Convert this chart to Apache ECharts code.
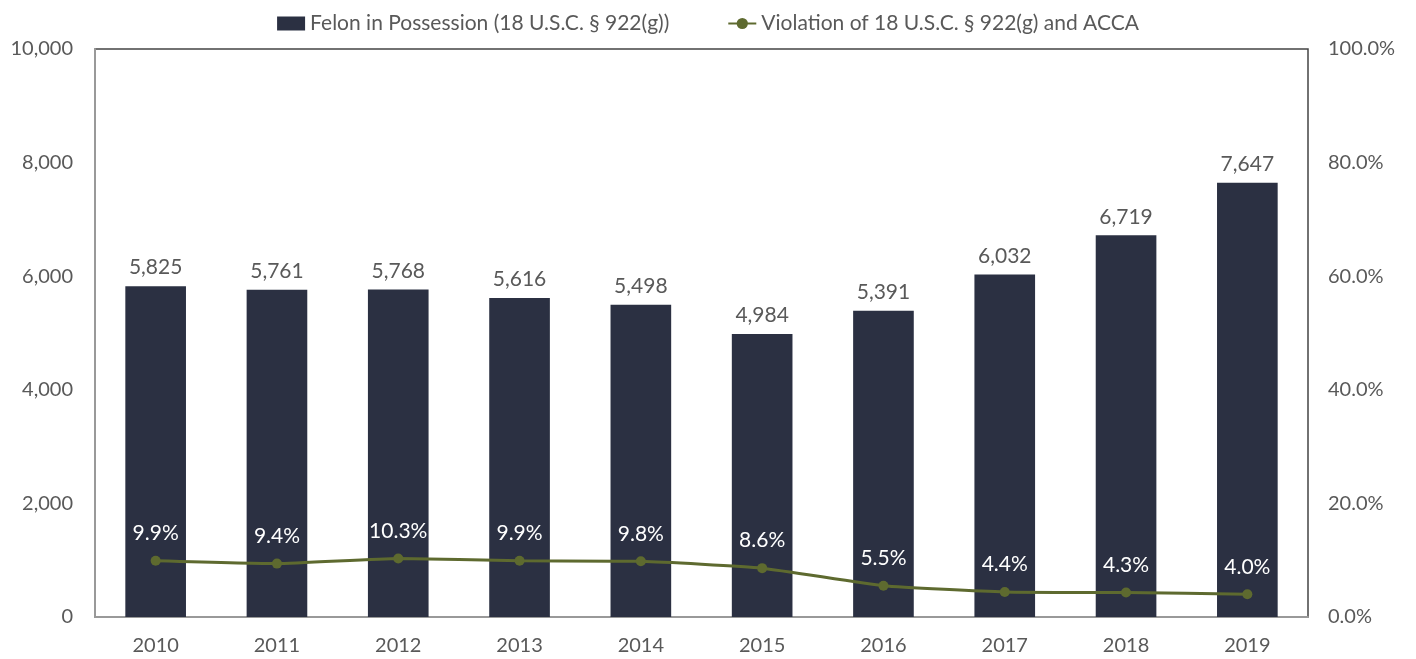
<!DOCTYPE html>
<html>
<head>
<meta charset="utf-8">
<script src="https://cdn.jsdelivr.net/npm/echarts@6/dist/echarts.min.js"></script>
<style>
  html, body { margin: 0; padding: 0; background: #fff; }
  #chart { width: 1416px; height: 659px; }
</style>
</head>
<body>
<div id="chart"></div>
<script>
// data
const years = ['2010', '2011', '2012', '2013', '2014', '2015', '2016', '2017', '2018', '2019'];
const felonCounts = [5825, 5761, 5768, 5616, 5498, 4984, 5391, 6032, 6719, 7647];
const accaPct = [9.9, 9.4, 10.3, 9.9, 9.8, 8.6, 5.5, 4.4, 4.3, 4.0];

const barColor = '#2b3042';
const lineColor = '#5e6a2f';
const textGray = '#595959';
const fontFamily = 'Lato, "Open Sans", sans-serif';

const chart = echarts.init(document.getElementById('chart'));

chart.setOption({
  animation: false,
  textStyle: { fontFamily: fontFamily },
  legend: {
    top: 8,
    left: 'center',
    itemGap: 58,
    itemWidth: 28,
    itemHeight: 14,
    textStyle: { fontSize: 21, color: textGray, fontFamily: fontFamily },
    data: [
      { name: 'Felon in Possession (18 U.S.C. § 922(g))', icon: 'rect', itemStyle: { color: barColor } },
      { name: 'Violation of 18 U.S.C. § 922(g) and ACCA' }
    ]
  },
  grid: { left: 95, right: 108, top: 49, bottom: 42, show: true, borderColor: '#444', borderWidth: 1.5 },
  xAxis: {
    type: 'category',
    data: years,
    axisLine: { show: true, lineStyle: { color: '#999', width: 2 } },
    axisTick: { show: false },
    axisLabel: { fontSize: 20, color: textGray, margin: 19 }
  },
  yAxis: [
    {
      type: 'value',
      min: 0, max: 10000, interval: 2000,
      splitLine: { show: false },
      axisLine: { show: true, lineStyle: { color: '#999', width: 2 } },
      axisLabel: {
        fontSize: 20, color: textGray, margin: 22,
        formatter: v => v.toLocaleString('en-US')
      }
    },
    {
      type: 'value',
      min: 0, max: 100, interval: 20,
      splitLine: { show: false },
      axisLine: { show: false },
      axisLabel: {
        fontSize: 20, color: textGray, margin: 20,
        formatter: v => v.toFixed(1) + '%'
      }
    }
  ],
  series: [
    {
      name: 'Felon in Possession (18 U.S.C. § 922(g))',
      type: 'bar',
      data: felonCounts,
      barWidth: '50%',
      itemStyle: { color: barColor },
      label: {
        show: true, position: 'top', distance: 8,
        fontSize: 21, color: textGray,
        formatter: p => p.value.toLocaleString('en-US')
      }
    },
    {
      name: 'Violation of 18 U.S.C. § 922(g) and ACCA',
      type: 'line',
      yAxisIndex: 1,
      data: accaPct,
      symbol: 'circle',
      symbolSize: 10,
      smooth: 0.15,
      lineStyle: { color: lineColor, width: 3 },
      itemStyle: { color: lineColor },
      label: {
        show: true, position: 'top', distance: 12,
        fontSize: 21, color: '#fff',
        formatter: p => p.value.toFixed(1) + '%'
      }
    }
  ]
});
</script>
</body>
</html>
